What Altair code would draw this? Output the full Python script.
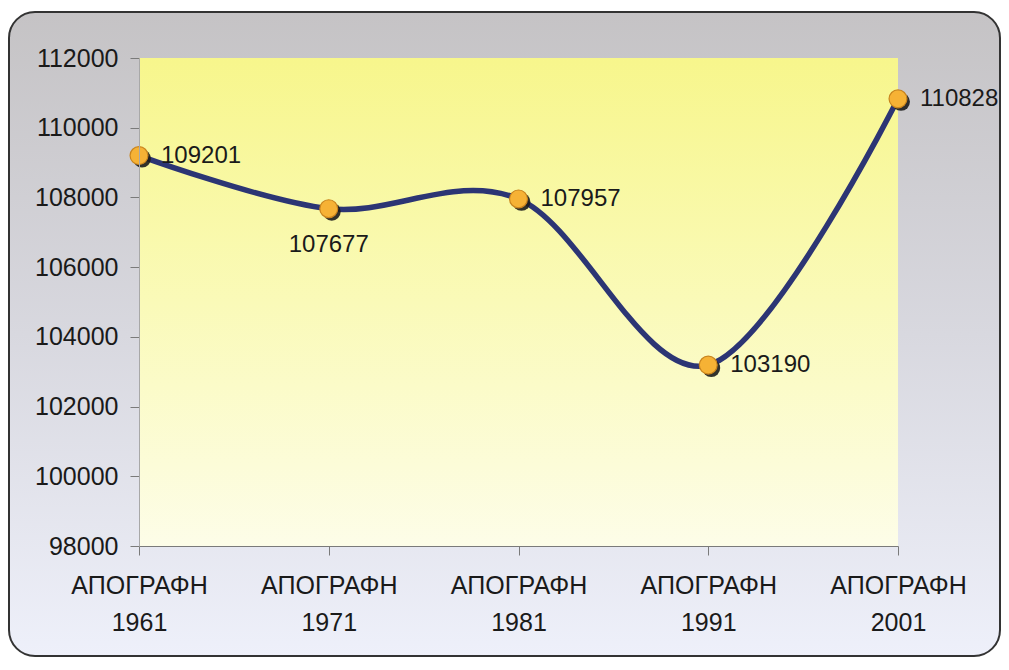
import altair as alt
import pandas as pd

# Data
years = ["1961", "1971", "1981", "1991", "2001"]
population = [109201, 107677, 107957, 103190, 110828]
label_prefix = "ΑΠΟΓΡΑΦΗ"
y_ticks = [98000, 100000, 102000, 104000, 106000, 108000, 110000, 112000]

df = pd.DataFrame({"year": years, "pop": population})

FONT = "Liberation Sans"
W, H = 759, 488

x_enc = alt.X(
    "year:O",
    sort=years,
    scale=alt.Scale(type="point", padding=0),
    axis=alt.Axis(
        title=None,
        labelAngle=0,
        labelExpr=f"['{label_prefix}', datum.label]",
        labelBaseline="top",
        labelLineHeight=37,
        labelPadding=18,
        tickSize=9,
        tickColor="#7a7a7a",
        domainColor="#7a7a7a",
        labelFontSize=25,
        labelFont=FONT,
        labelColor="#1a1a1a",
        zindex=2,
    ),
)
y_enc = alt.Y(
    "pop:Q",
    scale=alt.Scale(domain=[98000, 112000], nice=False, zero=False),
    axis=alt.Axis(
        title=None,
        values=y_ticks,
        format="d",
        grid=False,
        tickSize=9,
        tickColor="#7a7a7a",
        domainColor="#a8a8a8",
        labelPadding=12,
        labelFontSize=25,
        labelFont=FONT,
        labelColor="#1a1a1a",
        zindex=2,
    ),
)

outer_grad = alt.LinearGradient(
    gradient="linear", x1=0, x2=0, y1=0, y2=1,
    stops=[
        alt.GradientStop(color="#c5c3c5", offset=0),
        alt.GradientStop(color="#d8d8df", offset=0.5),
        alt.GradientStop(color="#eef0fa", offset=1),
    ],
)
plot_grad = alt.LinearGradient(
    gradient="linear", x1=0, x2=0, y1=0, y2=1,
    stops=[
        alt.GradientStop(color="#f7f68c", offset=0),
        alt.GradientStop(color="#fafab8", offset=0.5),
        alt.GradientStop(color="#fdfde8", offset=1),
    ],
)

one = alt.Data(values=[{}])

outer_bg = alt.Chart(one).mark_rect(
    fill=outer_grad, cornerRadius=26, stroke="#333333", strokeWidth=2
).encode(
    x=alt.value(-130), x2=alt.value(861), y=alt.value(-46), y2=alt.value(598)
)

plot_bg = alt.Chart(one).mark_rect(fill=plot_grad).encode(
    x=alt.value(0), x2=alt.value("width"), y=alt.value(0), y2=alt.value("height")
)

base = alt.Chart(df).encode(x=x_enc, y=y_enc)

line = base.mark_line(
    interpolate="cardinal", color="#2c3574", strokeWidth=5.5
)

shadow = base.mark_circle(
    size=320, color="#1c1c1c", opacity=0.9, xOffset=3, yOffset=3
)

points = base.mark_point(
    shape="circle", size=320, filled=True, fill="#f6b235",
    stroke="#c9841d", strokeWidth=1.2, opacity=1
)

labels_right = base.mark_text(
    align="left", baseline="middle", dx=22, dy=0,
    fontSize=24, font=FONT, color="#1a1a1a"
).encode(text="pop:Q").transform_filter(alt.datum.year != "1971")

labels_below = base.mark_text(
    align="center", baseline="middle", dx=0, dy=36,
    fontSize=24, font=FONT, color="#1a1a1a"
).encode(text="pop:Q").transform_filter(alt.datum.year == "1971")

chart = alt.layer(
    outer_bg, plot_bg, line, shadow, points, labels_right, labels_below
).properties(
    width=W, height=H,
    autosize=alt.AutoSizeParams(type="none"),
    padding={"left": 131, "top": 50, "right": 103, "bottom": 114},
    background="white",
).configure_view(stroke=None)

chart.save("out.html", embed_options={"renderer": "svg", "actions": False})
